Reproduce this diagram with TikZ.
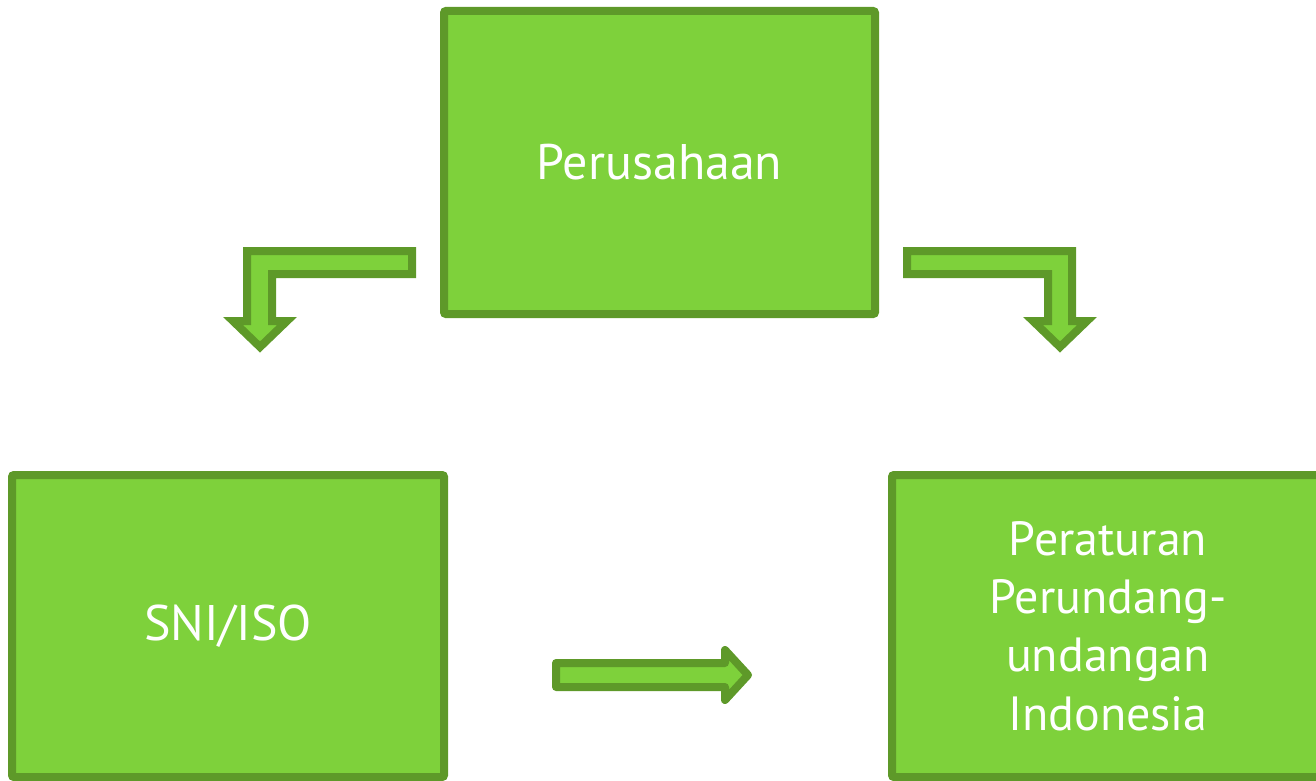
\documentclass[tikz,border=0pt]{standalone}
\usepackage{fontspec}
\setmainfont{PT Sans}
\definecolor{boxfill}{RGB}{126,209,59}
\definecolor{boxline}{RGB}{94,153,41}
\tikzset{
  greenbox/.style={draw=boxline, fill=boxfill, line width=8pt, rounded corners=2pt,
    text=white, align=center, inner sep=0pt},
  blockarrow/.style={draw=boxline, fill=boxfill, line width=8pt}
}
\begin{document}
\begin{tikzpicture}[x=1pt,y=-1pt]
\useasboundingbox (0,0) rectangle (1316,781);
\begin{scope}
\clip (0,0) rectangle (1316,781);
\node[greenbox, minimum width=431pt, minimum height=303pt,
  font=\fontsize{50}{60}\selectfont] (top) at (659.5,162.5) {Perusahaan};
\node[greenbox, minimum width=432pt, minimum height=302pt,
  font=\fontsize{50}{60}\selectfont] (sni) at (228,626) {SNI/ISO};
\node[greenbox, minimum width=432pt, minimum height=302pt,
  font=\fontsize{48}{58.3}\selectfont] (reg) at (1108,626)
  {Peraturan\\Perundang-\\undangan\\Indonesia};
\end{scope}
% left bent arrow
\draw[blockarrow, line join=miter]
  (412,251) -- (247,251) -- (247,321) -- (233,321) -- (260,347) -- (287,321)
  -- (272,321) -- (272,274) -- (412,274) -- cycle;
% right bent arrow
\draw[blockarrow, line join=miter]
  (907,251) -- (1072,251) -- (1072,321) -- (1087,321) -- (1060,347) -- (1033,321)
  -- (1048,321) -- (1048,274) -- (907,274) -- cycle;
% straight arrow
\draw[blockarrow, line join=round]
  (556,663) -- (725,663) -- (725,650) -- (748,675) -- (725,700) -- (725,687)
  -- (556,687) -- cycle;
\end{tikzpicture}
\end{document}
